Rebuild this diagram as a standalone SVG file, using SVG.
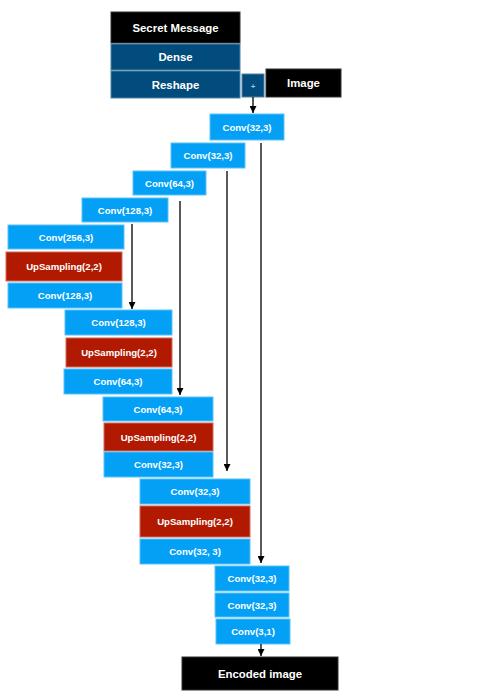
<svg xmlns="http://www.w3.org/2000/svg" width="480" height="695" viewBox="0 0 480 695">
<style>
.b{fill:#03A0F6;stroke:#5CC2FA;stroke-width:1}
.r{fill:#B11A00;stroke:#D06A5A;stroke-width:1}
.d{fill:#024C7D;stroke:#4C82A6;stroke-width:1}
.k{fill:#000;stroke:#333;stroke-width:1}
text{font-family:"Liberation Sans",Arial,Helvetica,sans-serif;font-weight:bold;fill:#fff;text-anchor:middle;dominant-baseline:central}
.t{font-size:9.6px}
.u{font-size:9.6px}
.L{font-size:11.4px}
.c line{stroke:#000;stroke-width:1.3}
</style>
<defs>
<marker id="ah" viewBox="0 0 10 10" refX="10" refY="5" markerWidth="7" markerHeight="7" markerUnits="userSpaceOnUse" orient="auto">
<path d="M0,0 L10,5 L0,10 z" fill="#000"/>
</marker>
</defs>
<rect width="480" height="695" fill="#fff"/>
<g id="secret"><rect class="k" x="111" y="12" width="129" height="31"/><text class="L" x="175.5" y="27.5">Secret Message</text></g>
<g id="dense"><rect class="d" x="111" y="44" width="129" height="26"/><text class="L" x="175.5" y="57">Dense</text></g>
<g id="reshape"><rect class="d" x="111" y="71" width="129" height="27"/><text class="L" x="175.5" y="84.5">Reshape</text></g>
<g id="plus"><rect class="d" x="242" y="74" width="22" height="23"/><text x="253" y="86" style="font-size:8px;fill:#9CC0D8">+</text></g>
<g id="image"><rect class="k" x="266" y="69" width="75" height="28"/><text class="L" x="303.5" y="83">Image</text></g>
<g id="e1"><rect class="b" x="210" y="114" width="74" height="26"/><text class="t" x="247" y="127">Conv(32,3)</text></g>
<g id="e2"><rect class="b" x="171" y="143" width="74" height="25"/><text class="t" x="208" y="155.5">Conv(32,3)</text></g>
<g id="e3"><rect class="b" x="133" y="171" width="73" height="24"/><text class="t" x="169.5" y="183">Conv(64,3)</text></g>
<g id="e4"><rect class="b" x="82" y="198" width="86" height="24"/><text class="t" x="125" y="210">Conv(128,3)</text></g>
<g id="s1"><rect class="b" x="8" y="225" width="116" height="24"/><text class="t" x="66" y="237">Conv(256,3)</text><rect class="r" x="6" y="252" width="116" height="29"/><text class="u" x="64" y="266.5">UpSampling(2,2)</text><rect class="b" x="8" y="283" width="114" height="25"/><text class="t" x="65" y="295.5">Conv(128,3)</text></g>
<g id="s2"><rect class="b" x="65" y="310" width="107" height="25"/><text class="t" x="118.5" y="322.5">Conv(128,3)</text><rect class="r" x="66" y="338" width="106" height="29"/><text class="u" x="119" y="352.5">UpSampling(2,2)</text><rect class="b" x="64" y="369" width="108" height="25"/><text class="t" x="118" y="381.5">Conv(64,3)</text></g>
<g id="s3"><rect class="b" x="103" y="397" width="110" height="24"/><text class="t" x="158" y="409">Conv(64,3)</text><rect class="r" x="104" y="423" width="109" height="28"/><text class="u" x="158.5" y="437">UpSampling(2,2)</text><rect class="b" x="104" y="452" width="109" height="25"/><text class="t" x="158.5" y="464.5">Conv(32,3)</text></g>
<g id="s4"><rect class="b" x="140" y="479" width="110" height="25"/><text class="t" x="195" y="491.5">Conv(32,3)</text><rect class="r" x="140" y="506" width="110" height="31"/><text class="u" x="195" y="521.5">UpSampling(2,2)</text><rect class="b" x="140" y="539" width="110" height="25"/><text class="t" x="195" y="551.5">Conv(32, 3)</text></g>
<g id="f1"><rect class="b" x="215" y="566" width="74" height="25"/><text class="t" x="252" y="578.5">Conv(32,3)</text></g>
<g id="f2"><rect class="b" x="215" y="593" width="74" height="24"/><text class="t" x="252" y="605">Conv(32,3)</text></g>
<g id="f3"><rect class="b" x="216" y="619" width="74" height="25"/><text class="t" x="253" y="631.5">Conv(3,1)</text></g>
<g id="encoded"><rect class="k" x="182" y="657" width="156" height="33"/><text class="L" x="260" y="673.5">Encoded image</text></g>
<g id="connectors" class="c">
<line x1="253" y1="97" x2="253" y2="113" marker-end="url(#ah)"/>
<line x1="261" y1="143" x2="261" y2="563" marker-end="url(#ah)"/>
<line x1="227" y1="171" x2="227" y2="471" marker-end="url(#ah)"/>
<line x1="180" y1="201" x2="180" y2="395" marker-end="url(#ah)"/>
<line x1="132" y1="224" x2="132" y2="309" marker-end="url(#ah)"/>
<line x1="261" y1="644" x2="261" y2="656" marker-end="url(#ah)"/>
</g>
</svg>
